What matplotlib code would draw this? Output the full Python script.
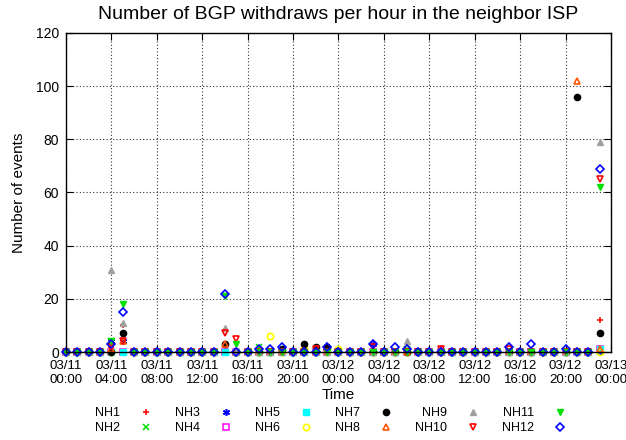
import numpy as np
import matplotlib
matplotlib.use("Agg")
import matplotlib.pyplot as plt

plt.rcParams['font.family'] = ['Liberation Sans', 'DejaVu Sans']

nan = np.nan
# hourly counts, 03/11 00:00 .. 03/12 23:00 (one row = 12 hours)
hours = list(range(48))
NH1 = [0, 0, 0, 0, 2, 10, 0, 0, 0, 0, 0, 0,
       0, 0, 0, 0, 0, 0, 0, 0, 0, 0, 0, 0,
       0, 0, 0, 0, 0, 0, 0, 0, 0, 1, 0, 0,
       0, 0, 0, 0, 0, 0, 0, 0, 0, 0, 0, 12]
NH2 = [0, 0, 0, 0, 4, 0, 0, 0, 0, 0, 0, 0,
       0, 0, 0, 0, 0, 2, 0, 0, 0, 0, 0, 0,
       0, 0, 0, 0, 0, 0, 1, 0, 0, 0, 0, 0,
       0, 0, 0, 0, 0, 0, 0, 0, 0, 0, 0, 0]
NH3 = [0, 0, 0, 0, 4, 4, 0, 0, 0, 0, 0, 0,
       0, 0, 0, 0, 0, 0, 0, 0, 0, 0, 0, 0,
       0, 0, 0, 3, 0, 0, 0, 0, 0, 0, 0, 0,
       0, 0, 0, 0, 0, 0, 0, 0, 0, 0, 0, 0]
NH4 = [0, 0, 0, 0, 0, 0, 0, 0, 0, 0, 0, 0,
       0, 0, 0, 0, 0, 0, 0, 0, 0, 0, 0, 0,
       0, 0, 0, 0, 0, 0, 0, 0, 0, 0, 0, 0,
       0, 0, 0, 0, 0, 0, 0, 0, 0, 0, 0, 1]
NH5 = [0, 0, 0, 0, 0, 0, 0, 0, 0, 0, 0, 0,
       0, 0, 0, 0, 0, 0, 0, 0, 0, 0, 0, 0,
       0, 0, 0, 0, 0, 0, 0, 0, 0, 0, 0, 0,
       0, 0, 0, 0, 0, 0, 0, 0, 0, 0, 0, 1]
NH6 = [0, 0, 0, 0, 0, nan, 0, 0, 0, 0, 0, 0,
       0, 0, nan, 0, 0, 0, 6, 0, 0, 1, 0, 0,
       1, 0, 0, 0, 0, 0, 0, 0, 0, 0, 0, 0,
       0, 0, 0, 0, 0, 0, 0, 0, 0, 0, 0, 0]
NH7 = [0, 0, 0, 0, 0, 7, 0, 0, 0, 0, 0, 0,
       0, 0, 3, 0, 0, 0, 0, 1, 0, 3, 2, 2,
       0, 0, 0, 0, 0, 0, 0, 0, 0, 0, 0, 0,
       0, 0, 0, 0, 0, 0, 0, 0, 0, 96, 0, 7]
NH8 = [0, 0, 0, 0, 1, 4, 0, 0, 0, 0, 0, 0,
       0, 0, 3, 0, 0, 0, 0, 0, 0, 0, 0, 0,
       0, 0, 0, 0, 0, 0, 0, 0, 0, 0, 0, 0,
       0, 0, 0, 0, 0, 0, 0, 0, 0, 102, 0, 1]
NH9 = [0, 0, 0, 0, 31, 11, 0, 0, 0, 0, 0, 0,
       0, 0, 9, 0, 0, 0, 0, 0, 0, 0, 0, 0,
       0, 0, 0, 0, 0, 0, 4, 0, 0, 0, 0, 0,
       0, 0, 0, 0, 0, 0, 0, 0, 0, 0, 0, 79]
NH10 = [0, 0, 0, 0, 2, 4, 0, 0, 0, 0, 0, 0,
        0, 0, 7, 5, 0, 0, 0, 0, 0, 0, 1, 0,
        0, 0, 0, 2, 0, 0, 0, 0, 0, 1, 0, 0,
        0, 0, 0, 1, 0, 0, 0, 0, 0, 0, 0, 65]
NH11 = [0, 0, 0, 0, 4, 18, 0, 0, 0, 0, 0, 0,
        0, 0, 21, 3, 0, 0, 0, 0, 0, 0, 0, 0,
        0, 0, 0, 0, 0, 0, 0, 0, 0, 0, 0, 0,
        0, 0, 0, 0, 0, 0, 0, 0, 0, 0, 0, 62]
NH12 = [0, 0, 0, 0, 3, 15, 0, 0, 0, 0, 0, 0,
        0, 0, 22, 0, 0, 1, 1, 2, 0, 0, 0, 2,
        0, 0, 0, 3, 0, 2, 1, 0, 0, 0, 0, 0,
        0, 0, 0, 2, 0, 3, 0, 0, 1, 0, 0, 69]

names = ["NH1", "NH2", "NH3", "NH4", "NH5", "NH6",
         "NH7", "NH8", "NH9", "NH10", "NH11", "NH12"]
series = [NH1, NH2, NH3, NH4, NH5, NH6, NH7, NH8, NH9, NH10, NH11, NH12]

tick_hours = list(range(0, 49, 4))
tick_labels = ["03/11\n00:00", "03/11\n04:00", "03/11\n08:00", "03/11\n12:00",
               "03/11\n16:00", "03/11\n20:00", "03/12\n00:00", "03/12\n04:00",
               "03/12\n08:00", "03/12\n12:00", "03/12\n16:00", "03/12\n20:00",
               "03/13\n00:00"]

# gnuplot-ish point types
styles = [
    dict(marker="+", color="#ff0000", mfc="#ff0000", ms=5, mew=1.1),
    dict(marker="x", color="#00e000", mfc="#00e000", ms=4, mew=1.1),
    dict(marker=(6, 2, 0), color="#0000ff", mfc="#0000ff", ms=5, mew=1.1),
    dict(marker="s", color="#ff00ff", mfc="none", ms=4, mew=1.1),
    dict(marker="s", color="#00ffff", mfc="#00ffff", ms=4, mew=1.0),
    dict(marker="o", color="#ffff00", mfc="none", ms=4.5, mew=1.3),
    dict(marker="o", color="#000000", mfc="#000000", ms=4.5, mew=1.0),
    dict(marker="^", color="#ff5500", mfc="none", ms=4.5, mew=1.2),
    dict(marker="^", color="#a0a0a0", mfc="#a0a0a0", ms=4, mew=1.0),
    dict(marker="v", color="#ff0000", mfc="none", ms=4.5, mew=1.2),
    dict(marker="v", color="#00e000", mfc="#00e000", ms=4, mew=1.0),
    dict(marker="D", color="#0000ff", mfc="none", ms=4, mew=1.2),
]

fig = plt.figure(figsize=(6.26, 4.40), dpi=100)
ax = fig.add_axes([0.1054, 0.2, 0.8706, 0.725])

for name, vals, st in zip(names, series, styles):
    ax.plot(hours, vals, linestyle="none", label=name, clip_on=False,
            marker=st["marker"], color=st["color"], markerfacecolor=st["mfc"],
            markeredgecolor=st["color"], markersize=st["ms"],
            markeredgewidth=st["mew"])

ax.set_xlim(0, 48)
ax.set_ylim(0, 120)
ax.set_xticks(tick_hours)
ax.set_xticklabels(tick_labels, fontsize=9.5)
ax.set_yticks(range(0, 121, 20))
ax.tick_params(axis="y", labelsize=10, pad=5)
ax.tick_params(direction="in", top=True, right=True, length=5, width=0.8)
ax.tick_params(axis="x", pad=6)
ax.grid(True, linestyle=(0, (1, 2)), color="#333333", linewidth=0.8)
for s in ax.spines.values():
    s.set_linewidth(1.0)

ax.set_title("Number of BGP withdraws per hour in the neighbor ISP",
             fontsize=14, pad=10)
ax.set_xlabel("Time", fontsize=11, labelpad=1)
ax.set_ylabel("Number of events", fontsize=11, labelpad=7)

fig.legend(loc="lower center", bbox_to_anchor=(0.528, -0.012), ncol=6,
           frameon=False, markerfirst=False, fontsize=9,
           handlelength=1.0, handletextpad=1.6, columnspacing=1.8,
           labelspacing=0.25)

fig.savefig("out.png", dpi=100)
